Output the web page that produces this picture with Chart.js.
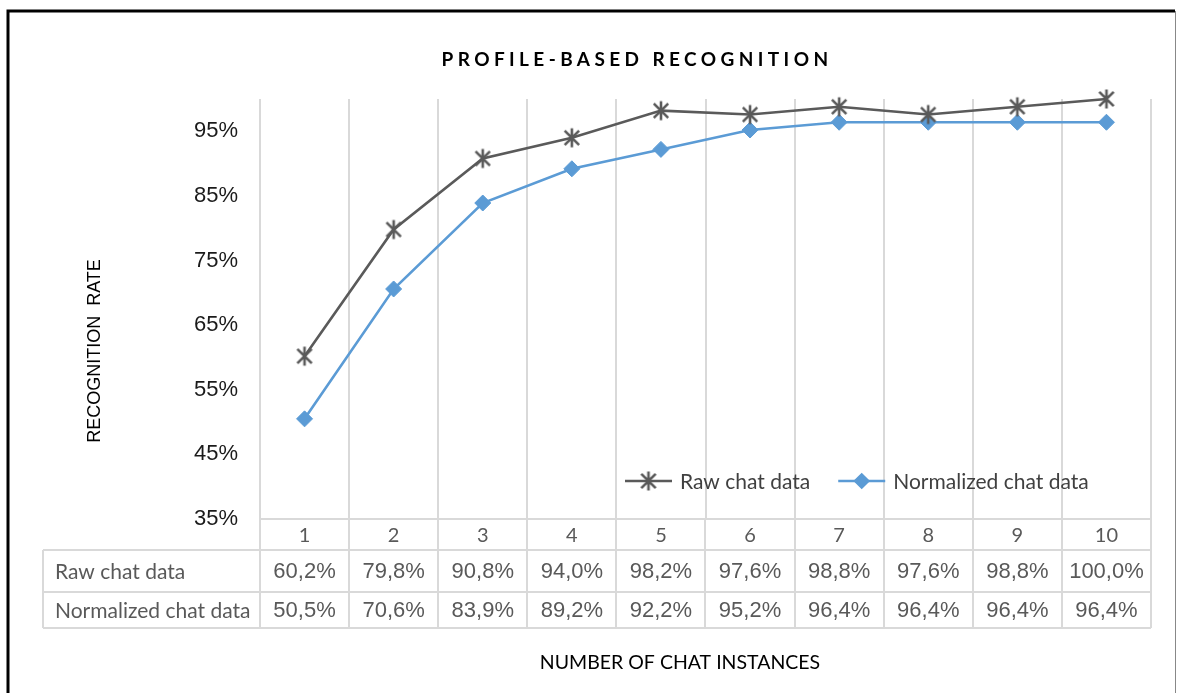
<!DOCTYPE html>
<html><head><meta charset="utf-8">
<script src="https://cdn.jsdelivr.net/npm/chart.js@4/dist/chart.umd.min.js"></script>
<style>html,body{margin:0;padding:0;background:#fff}canvas{display:block}</style>
</head><body>
<canvas id="c" width="1177" height="693"></canvas>
<script>
// ---- data ----
const categories = ['1','2','3','4','5','6','7','8','9','10'];
const rawChat = [60.2, 79.8, 90.8, 94.0, 98.2, 97.6, 98.8, 97.6, 98.8, 100.0];
const normalizedChat = [50.5, 70.6, 83.9, 89.2, 92.2, 95.2, 96.4, 96.4, 96.4, 96.4];
const seriesNames = ['Raw chat data', 'Normalized chat data'];
const yTickValues = [35, 45, 55, 65, 75, 85, 95];
const chartTitle = 'PROFILE-BASED RECOGNITION';
const yTitle = 'RECOGNITION  RATE';
const xTitle = 'NUMBER OF CHAT INSTANCES';

const fmt = v => v.toFixed(1).replace('.', ',') + '%';
const GRID = '#d9d9d9';
const RAW_COLOR = '#5a5a5a';
const NORM_COLOR = '#5b9bd5';
const CAL = 'Lato, "Open Sans", sans-serif';
const ARI = '"Liberation Sans", Arial, sans-serif';

// Excel-like star marker: X plus vertical bar
function makeStar(color) {
  const c = document.createElement('canvas');
  c.width = 22; c.height = 22;
  const g = c.getContext('2d');
  g.strokeStyle = color; g.lineWidth = 2.6; g.lineCap = 'butt';
  const m = 11, d = 7.2;
  g.beginPath();
  g.moveTo(m - d, m - d); g.lineTo(m + d, m + d);
  g.moveTo(m + d, m - d); g.lineTo(m - d, m + d);
  g.moveTo(m, m - 9.5); g.lineTo(m, m + 9.5);
  g.stroke();
  return c;
}
const starImg = makeStar(RAW_COLOR);

const decor = {
  id: 'decor',
  afterDraw(chart) {
    const ctx = chart.ctx;
    const x = chart.scales.x;
    const ca = chart.chartArea;
    ctx.save();
    // frame
    ctx.strokeStyle = '#000'; ctx.lineWidth = 3;
    ctx.beginPath(); ctx.moveTo(8, 693); ctx.lineTo(8, 11); ctx.lineTo(1175, 11); ctx.stroke();
    ctx.strokeStyle = '#888'; ctx.lineWidth = 1;
    ctx.beginPath(); ctx.moveTo(1175.5, 11); ctx.lineTo(1175.5, 693); ctx.stroke();

    // title
    ctx.fillStyle = '#000';
    ctx.font = 'bold 19px ' + CAL;
    ctx.letterSpacing = '4.4px';
    ctx.textAlign = 'center'; ctx.textBaseline = 'middle';
    ctx.fillText(chartTitle, 637, 60);
    ctx.letterSpacing = '0px';

    // y title
    ctx.save();
    ctx.translate(95, 351); ctx.rotate(-Math.PI / 2);
    ctx.font = '18px ' + ARI; ctx.fillStyle = '#000';
    ctx.fillText(yTitle, 0, 0);
    ctx.restore();

    // x title
    ctx.font = '19.5px ' + CAL; ctx.fillStyle = '#000';
    ctx.fillText(xTitle, 680, 663);

    // data table
    const half = (x.getPixelForValue(1) - x.getPixelForValue(0)) / 2;
    const top = ca.bottom;
    const r1 = top + 31, r2 = r1 + 42, r3 = r2 + 36;
    const tableLeft = 43;
    ctx.strokeStyle = GRID; ctx.lineWidth = 2;
    ctx.beginPath();
    for (let i = 0; i <= categories.length; i++) {
      const px = Math.round(x.getPixelForValue(0) - half + 2 * half * i);
      ctx.moveTo(px, top); ctx.lineTo(px, r3);
    }
    ctx.moveTo(tableLeft, r1); ctx.lineTo(tableLeft, r3);
    [r1, r2, r3].forEach(yy => { ctx.moveTo(tableLeft, yy); ctx.lineTo(ca.right, yy); });
    ctx.stroke();

    const rows = [rawChat, normalizedChat];
    const centers = [(r1 + r2) / 2, (r2 + r3) / 2];
    rows.forEach((arr, ri) => {
      ctx.fillStyle = '#595959';
      ctx.textAlign = 'left';
      ctx.font = '21px ' + CAL;
      ctx.fillText(seriesNames[ri], 55, centers[ri] + 1);
      ctx.textAlign = 'center';
      ctx.font = '22px ' + ARI;
      arr.forEach((v, i) => ctx.fillText(fmt(v), x.getPixelForValue(i), centers[ri] + 1));
    });

    // legend
    const ly = 481;
    let lx = 625;
    ctx.font = '21px ' + CAL;
    ctx.textAlign = 'left';
    chart.data.datasets.forEach((ds, i) => {
      ctx.strokeStyle = ds.borderColor; ctx.fillStyle = ds.backgroundColor;
      ctx.lineWidth = ds.borderWidth;
      ctx.beginPath(); ctx.moveTo(lx, ly); ctx.lineTo(lx + 47, ly); ctx.stroke();
      Chart.helpers.drawPoint(ctx, {pointStyle: ds.pointStyle, radius: ds.pointRadius - 1.5, borderWidth: ds.pointBorderWidth, rotation: 0}, lx + 23.5, ly);
      ctx.fillStyle = '#404040';
      ctx.fillText(ds.label, lx + 55, ly + 1);
      lx += 55 + ctx.measureText(ds.label).width + 28;
    });
    ctx.restore();
  }
};

new Chart(document.getElementById('c'), {
  type: 'line',
  data: {
    labels: categories,
    datasets: [
      { label: seriesNames[0], data: rawChat, borderColor: RAW_COLOR, backgroundColor: RAW_COLOR,
        borderWidth: 2.6, pointStyle: starImg, pointRadius: 9, pointBorderWidth: 2.5, tension: 0, clip: false },
      { label: seriesNames[1], data: normalizedChat, borderColor: NORM_COLOR, backgroundColor: NORM_COLOR,
        borderWidth: 2.6, pointStyle: 'rectRot', pointRadius: 8, pointBorderWidth: 1, tension: 0, clip: false }
    ]
  },
  options: {
    responsive: false,
    animation: false,
    devicePixelRatio: 1,
    layout: { padding: { left: 60, top: 99, right: 26, bottom: 124 } },
    plugins: { legend: { display: false }, title: { display: false }, tooltip: { enabled: false } },
    scales: {
      x: {
        offset: true,
        grid: { offset: true, color: GRID, lineWidth: 2, drawTicks: false },
        border: { display: true, color: GRID, width: 2 },
        ticks: { color: '#595959', font: { family: CAL, size: 20 }, padding: 5, maxRotation: 0 },
        afterFit: s => { s.height = 50; }
      },
      y: {
        min: 35, max: 100,
        grid: { display: false, drawTicks: false },
        border: { display: false },
        ticks: { color: '#1a1a1a', font: { family: ARI, size: 22 }, padding: 22, callback: v => v + '%' },
        afterBuildTicks: s => { s.ticks = yTickValues.map(v => ({ value: v })); },
        afterFit: s => { s.width = 200; }
      }
    }
  },
  plugins: [decor]
});
</script>
</body></html>
